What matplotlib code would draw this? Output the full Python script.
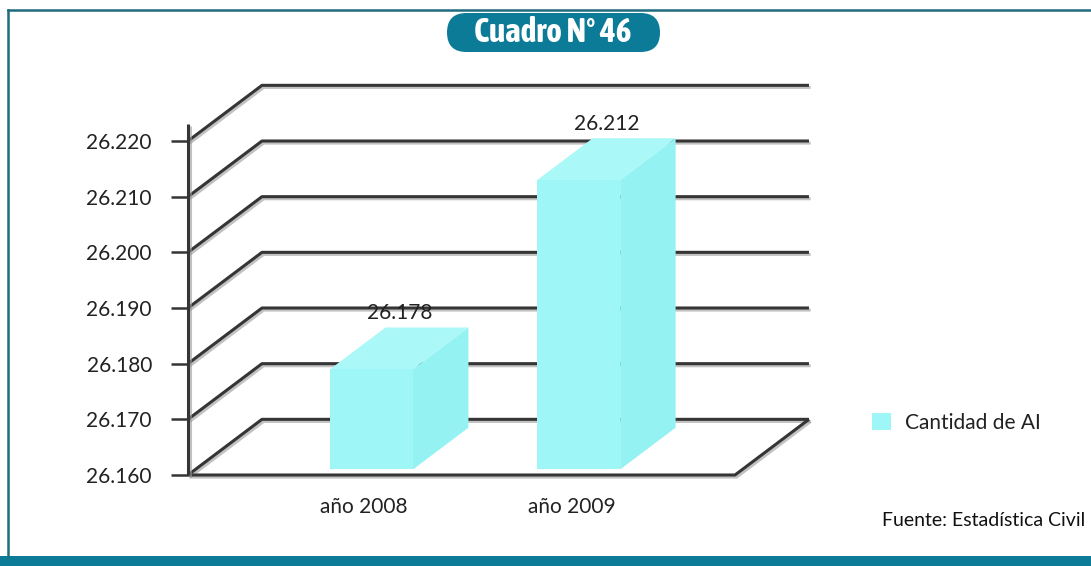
import numpy as np
import matplotlib
matplotlib.use("Agg")
import matplotlib.pyplot as plt
import matplotlib.patheffects as pe
from matplotlib import font_manager
from matplotlib.font_manager import FontProperties
from matplotlib.patches import Polygon, Patch, Rectangle, FancyBboxPatch
from matplotlib.lines import Line2D
from matplotlib.transforms import IdentityTransform

# --- data ---
categories = ["año 2008", "año 2009"]
values = [26178, 26212]
y_ticks = [26160, 26170, 26180, 26190, 26200, 26210, 26220]
series_name = "Cantidad de AI"
title = "Cuadro N° 46"
source = "Fuente: Estadística Civil"

# --- styling ---
W_PX, H_PX = 1091, 566
TEAL = "#0b7b97"
BORDER = "#1f6c7e"
BAR_FRONT = "#9ff6f6"
BAR_TOP = "#abf8f8"
BAR_SIDE = "#95f2f2"
GRID = "#353535"
TEXT = "#222222"
TITLE_W_PX = 161   # width of the title text in the reference

installed = {f.name for f in font_manager.fontManager.ttflist}
body_font = "Lato" if "Lato" in installed else "DejaVu Sans"
plt.rcParams["font.family"] = [body_font, "DejaVu Sans"]

# a bold condensed face for the title if one is installed (DejaVu's is too wide)
title_prop = FontProperties(family=[body_font, "DejaVu Sans"], weight="bold", size=24)
for f in font_manager.fontManager.ttflist:
    fn = f.fname.replace("-", "").replace("_", "")
    if "DejaVu" in fn:
        continue
    if ("Condensed" in fn or "Narrow" in fn) and "Bold" in fn and "Italic" not in fn \
            and "Extra" not in fn and "Semi" not in fn and "Ultra" not in fn:
        title_prop = FontProperties(fname=f.fname, size=24)
        break

# oblique depth of the pseudo 3D box (x in category units, y in value units)
DX = 0.357
DY = 10.0
BAR_W = 0.40
F0, F1 = 0.10, 0.85   # front / back depth of the bars
X0, X1 = 0.15, 2.79


def fmt(v):
    return f"{v:,}".replace(",", ".")


fig = plt.figure(figsize=(W_PX / 100, H_PX / 100), dpi=100)
fig.patch.set_facecolor("white")
ax = fig.add_axes([188 / W_PX, 91 / H_PX, 547 / W_PX, 334 / H_PX])
ax.set_xlim(X0, X1)
ax.set_ylim(y_ticks[0], y_ticks[-1])
ax.patch.set_alpha(0)
for s in ax.spines.values():
    s.set_visible(False)

shadow = [pe.SimpleLineShadow(offset=(1.2, -1.5), shadow_color="#9a9a9a", alpha=0.6), pe.Normal()]
line_kw = dict(color=GRID, lw=2.2, clip_on=False, solid_capstyle="butt", path_effects=shadow, zorder=1)

# back wall gridlines with their diagonal run to the front axis
for v in y_ticks:
    ax.plot([X0, X0 + DX, X1 + DX], [v, v + DY, v + DY], **line_kw)

# floor front edge and right edge, plus the front value axis
base = y_ticks[0]
ax.plot([X0, X1, X1 + DX], [base, base, base + DY], **line_kw)
ax.plot([X0, X0], [base, y_ticks[-1] + 3], **line_kw)

# bars
x = np.arange(1, len(categories) + 1)
d = F1 - F0
for xi, v in zip(x, values):
    xa = xi - BAR_W / 2 + F0 * DX
    xb = xi + BAR_W / 2 + F0 * DX
    yb = base + F0 * DY
    yt = v + F0 * DY
    front = Polygon([(xa, yb), (xb, yb), (xb, yt), (xa, yt)], closed=True)
    top = Polygon([(xa, yt), (xb, yt), (xb + d * DX, yt + d * DY), (xa + d * DX, yt + d * DY)], closed=True)
    side = Polygon([(xb, yb), (xb + d * DX, yb + d * DY), (xb + d * DX, yt + d * DY), (xb, yt)], closed=True)
    for p, c in ((side, BAR_SIDE), (top, BAR_TOP), (front, BAR_FRONT)):
        p.set_facecolor(c)
        p.set_edgecolor("none")
        p.set_clip_on(False)
        p.set_zorder(3)
        ax.add_patch(p)
    ax.annotate(fmt(v), xy=(xi + (F0 + F1) / 2 * DX, v + F1 * DY), xytext=(0, 3),
                textcoords="offset points", ha="center", va="bottom",
                fontsize=15, color=TEXT, zorder=5, annotation_clip=False)

ax.set_yticks(y_ticks, labels=[fmt(v) for v in y_ticks])
ax.tick_params(axis="y", direction="out", length=12, width=1.8, color=GRID,
               pad=14, labelsize=15, labelcolor=TEXT)
ax.set_xticks(x, labels=categories)
ax.tick_params(axis="x", length=0, pad=16, labelsize=15, labelcolor=TEXT)

# legend
fig.legend([Patch(facecolor=BAR_FRONT, edgecolor="none")], [series_name],
           loc="center left", bbox_to_anchor=(872 / W_PX, 1 - 423 / H_PX),
           frameon=False, borderaxespad=0, borderpad=0, handlelength=0.9,
           handleheight=0.9, handletextpad=0.7, fontsize=15, labelcolor=TEXT)

# source note
fig.text(1085 / W_PX, 1 - 521 / H_PX, source, ha="right", va="center", fontsize=14, color="#111111")

# frame: thin teal border and band at the bottom
fig.add_artist(Line2D([8 / W_PX, 8 / W_PX], [10 / H_PX, 1 - 10 / H_PX], color=BORDER, lw=1.8))
fig.add_artist(Line2D([8 / W_PX, 1], [1 - 10 / H_PX, 1 - 10 / H_PX], color=BORDER, lw=1.8))
fig.add_artist(Rectangle((0, 0), 1, 10 / H_PX, transform=fig.transFigure, facecolor=TEAL, edgecolor="none"))

# title pill
pill = FancyBboxPatch((447, H_PX - 52), 213, 39, boxstyle="round,pad=0,rounding_size=19.5",
                      transform=IdentityTransform(), facecolor=TEAL, edgecolor="none")
fig.add_artist(pill)
title_txt = fig.text(553 / W_PX, 1 - 33 / H_PX, title, ha="center", va="center", color="white",
                     fontproperties=title_prop)
# shrink the title so it fits the pill like in the reference
renderer = fig.canvas.get_renderer()
tw = title_txt.get_window_extent(renderer).width
if tw > TITLE_W_PX:
    title_txt.set_fontsize(title_prop.get_size() * TITLE_W_PX / tw)

fig.savefig("out.png", dpi=100)
